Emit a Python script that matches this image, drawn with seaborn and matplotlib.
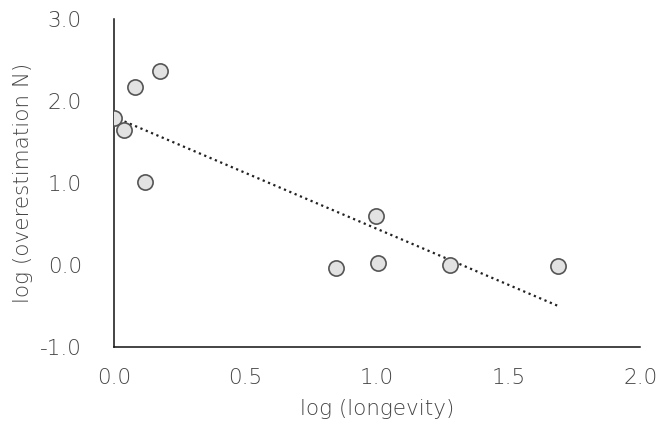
import numpy as np
import pandas as pd
import matplotlib
matplotlib.use("Agg")
import matplotlib.pyplot as plt
import seaborn as sns

log_longevity = [0.0, 0.038, 0.08, 0.175, 0.118, 0.844, 0.996, 1.004, 1.278, 1.688]
log_overestimation = [1.79, 1.65, 2.17, 2.37, 1.01, -0.04, 0.60, 0.02, 0.0, -0.01]
x_ticks = [0.0, 0.5, 1.0, 1.5, 2.0]
y_ticks = [-1.0, 0.0, 1.0, 2.0, 3.0]

df = pd.DataFrame({"x": log_longevity, "y": log_overestimation})

sns.set_theme(style="white")
plt.rcParams["font.family"] = ["DejaVu Sans"]

fig = plt.figure(figsize=(6.58, 4.29), dpi=100)
ax = fig.add_axes([0.173, 0.191, 0.80, 0.765])

sns.regplot(data=df, x="x", y="y", ax=ax, ci=None, truncate=True,
            scatter_kws=dict(s=120, facecolor="#e2e2e2", edgecolor="#555555",
                             linewidths=1.2, alpha=1, zorder=3),
            line_kws=dict(color="#222222", linestyle=(0, (1, 1.6)), linewidth=1.6, zorder=2))

ax.set_xlim(0, 2)
ax.set_ylim(-1, 3)
ax.set_xticks(x_ticks)
ax.set_yticks(y_ticks)
fs = 15.5
tc = "#444444"
ax.set_xticklabels([f"{v:.1f}" for v in x_ticks], fontweight="light")
ax.set_yticklabels([f"{v:.1f}" for v in y_ticks], fontweight="light")
ax.tick_params(axis="both", length=0, labelsize=fs, labelcolor=tc)
ax.tick_params(axis="x", pad=15)
ax.tick_params(axis="y", pad=23)

for s in ["top", "right"]:
    ax.spines[s].set_visible(False)
for s in ["left", "bottom"]:
    ax.spines[s].set_color("#111111")
    ax.spines[s].set_linewidth(1.1)

ax.set_xlabel("log (longevity)", fontsize=fs, color=tc, labelpad=8, fontweight="light")
ax.set_ylabel("log (overestimation N)", fontsize=fs, color=tc, labelpad=5, fontweight="light")

fig.savefig("out.png", dpi=100)
